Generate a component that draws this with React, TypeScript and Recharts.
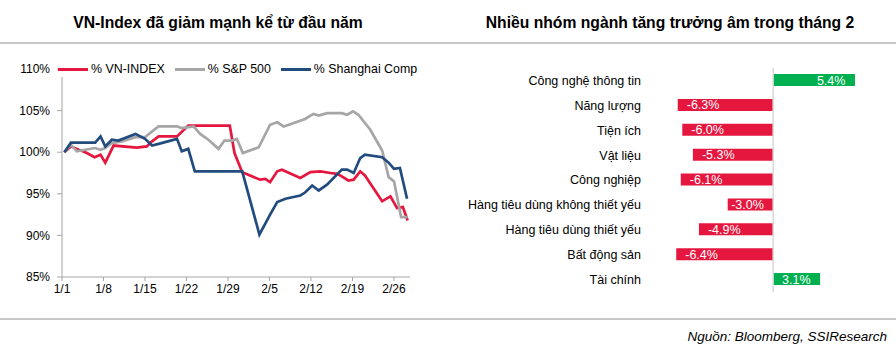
import React from 'react';
import { LineChart, Line, XAxis, YAxis, BarChart, Bar, LabelList, ReferenceLine, Cell } from 'recharts';

const FONT = '"Liberation Sans", Arial, Helvetica, sans-serif';

// ---------- Left chart data ----------
const dateTicks = [0, 7, 14, 21, 28, 35, 42, 49, 56];
const dateLabels = ['1/1', '1/8', '1/15', '1/22', '1/29', '2/5', '2/12', '2/19', '2/26'];
const pctTicks = [85, 90, 95, 100, 105, 110];

const seriesNames = ['% VN-INDEX', '% S&P 500', '% Shanghai Comp'];
const seriesColors = ['#E5173F', '#A6A6A6', '#224B7E'];

// [day since 1/1, % of start]
const vnIndex: [number, number][] = [
  [0.4, 100], [1.5, 100.7], [2.5, 100.4], [4.2, 99.9], [5.5, 99.4], [6.5, 99.7], [7.3, 98.75],
  [8.7, 100.8], [12.6, 100.55], [14.3, 100.7], [15.2, 101.3], [16.3, 101.9], [19.4, 101.9],
  [21.3, 103.2], [28.3, 103.2], [29.1, 99.9], [30.4, 97.6], [33.4, 96.7], [34.3, 96.8],
  [35.1, 96.4], [36.3, 97.7], [37.1, 97.9], [40.2, 96.9], [41.9, 97.6], [43.6, 97.7],
  [45.3, 97.5], [46.4, 97.4], [47.2, 97.1], [48.3, 96.6], [49.2, 96.7], [50.3, 97.7],
  [51.1, 97.2], [54.0, 94.1], [55.4, 94.7], [56.5, 93.3], [57.5, 93.4], [58.3, 91.8],
];
const sp500: [number, number][] = [
  [0.4, 100], [1.5, 100.9], [2.5, 100.1], [3.9, 100.3], [5.6, 100.5], [6.5, 100.3], [7.3, 100.5],
  [8.4, 101.1], [10.1, 101.3], [12.4, 101.8], [14.0, 101.8], [15.2, 102.5], [16.3, 103.1],
  [19.4, 103.1], [20.2, 102.9], [22.2, 103.1], [23.3, 102.2], [24.7, 101.5], [26.4, 100.4],
  [27.4, 101.4], [28.7, 101.4], [29.5, 101.6], [30.5, 99.9], [33.2, 100.6], [35.1, 103.3],
  [36.3, 103.6], [37.4, 103.1], [41.0, 104.0], [42.4, 104.6], [43.3, 104.4], [44.7, 104.7],
  [47.2, 104.7], [48.1, 104.5], [49.1, 104.9], [50.0, 104.5], [52.0, 102.7], [54.0, 100.2],
  [55.1, 97.0], [56.0, 96.5], [57.2, 92.2], [58.3, 92.2],
];
const shanghai: [number, number][] = [
  [0.4, 100], [1.5, 101.15], [5.6, 101.15], [6.5, 101.9], [7.3, 100.7], [8.4, 101.5], [9.5, 101.4],
  [12.4, 102.2], [14.0, 101.6], [15.2, 100.8], [16.3, 101.0], [19.4, 101.6], [20.2, 100.1],
  [21.3, 100.4], [22.4, 97.7], [30.4, 97.7], [33.3, 90.1], [35.1, 92.5], [36.3, 94.0],
  [37.7, 94.4], [40.2, 94.8], [41.0, 95.15], [42.2, 96.0], [43.3, 95.4], [44.7, 96.1],
  [47.2, 97.9], [48.1, 97.9], [49.2, 97.5], [50.3, 99.3], [51.1, 99.7], [54.0, 99.4],
  [55.1, 98.75], [56.0, 98.0], [57.0, 98.1], [58.2, 94.4],
];

// ---------- Right chart data ----------
const sectors = [
  'Công nghệ thông tin', 'Năng lượng', 'Tiện ích', 'Vật liệu', 'Công nghiệp',
  'Hàng tiêu dùng không thiết yếu', 'Hàng tiêu dùng thiết yếu', 'Bất động sản', 'Tài chính',
];
const sectorGrowth = [5.4, -6.3, -6.0, -5.3, -6.1, -3.0, -4.9, -6.4, 3.1];

const toPoints = (arr: [number, number][]) => arr.map(([d, v]) => ({ d, v }));
const lineSeries = [toPoints(vnIndex), toPoints(sp500), toPoints(shanghai)];
const barData = sectors.map((name, i) => ({ name, value: sectorGrowth[i] }));

const BarValueLabel = (props: any) => {
  const { x, y, width, height, value } = props;
  const left = Math.min(x, x + width);
  const w = Math.abs(width);
  const cy = y + height / 2;
  const text = `${Number(value).toFixed(1)}%`;
  if (value < 0) {
    return (
      <text x={left + Math.min(9, w - 42)} y={cy} dy="0.36em" fill="#fff" fontSize={12.5} fontFamily={FONT} textAnchor="start">
        {text}
      </text>
    );
  }
  return (
    <text x={left + w - 9.5} y={cy} dy="0.36em" fill="#fff" fontSize={12.5} fontFamily={FONT} textAnchor="end">
      {text}
    </text>
  );
};

export default function App() {
  const axisColor = '#A6A6A6';
  return (
    <div style={{ position: 'absolute', left: 0, top: 0, width: 896, height: 354, background: '#fff', fontFamily: FONT, overflow: 'hidden' }}>
      <div style={{ position: 'absolute', left: 0, top: 14, width: 436, textAlign: 'center', fontWeight: 'bold', fontSize: 15.7, color: '#000' }}>
        VN-Index đã giảm mạnh kể từ đầu năm
      </div>
      <div style={{ position: 'absolute', left: 450, top: 14, width: 440, textAlign: 'center', fontWeight: 'bold', fontSize: 15.7, color: '#000' }}>
        Nhiều nhóm ngành tăng trưởng âm trong tháng 2
      </div>
      <div style={{ position: 'absolute', left: 0, top: 42, width: 896, height: 1.5, background: '#C8C8C8' }} />

      <div style={{ position: 'absolute', left: 0, top: 0 }}>
        <LineChart width={420} height={300} margin={{ top: 69, right: 10, left: 0, bottom: 0 }}>
          <XAxis
            type="number"
            dataKey="d"
            domain={[0, 58.7]}
            ticks={dateTicks}
            tickFormatter={(v: number) => dateLabels[dateTicks.indexOf(v)]}
            allowDataOverflow
            height={23}
            tickSize={4}
            tickMargin={3}
            stroke={axisColor}
            tick={{ fill: '#000', fontSize: 12, fontFamily: FONT }}
          />
          <YAxis
            type="number"
            domain={[85, 110]}
            ticks={pctTicks}
            tickFormatter={(v: number) => `${v}%`}
            width={62}
            tickSize={5}
            tickMargin={7}
            stroke={axisColor}
            tick={{ fill: '#000', fontSize: 12, fontFamily: FONT }}
          />
          {lineSeries.map((pts, i) => (
            <Line
              key={seriesNames[i]}
              data={pts}
              dataKey="v"
              name={seriesNames[i]}
              stroke={seriesColors[i]}
              strokeWidth={2.7}
              dot={false}
              type="linear"
              isAnimationActive={false}
            />
          ))}
        </LineChart>
      </div>

      <div style={{ position: 'absolute', left: 58, top: 61, display: 'flex', alignItems: 'center', fontSize: 12.4, color: '#000', background: 'transparent' }}>
        {seriesNames.map((n, i) => (
          <div key={n} style={{ display: 'flex', alignItems: 'center', marginRight: 10, background: '#fff' }}>
            <div style={{ width: 30, height: 3, background: seriesColors[i], marginRight: 3 }} />
            <span style={{ lineHeight: '16px' }}>{n}</span>
          </div>
        ))}
      </div>

      <div style={{ position: 'absolute', left: 440, top: 60 }}>
        <BarChart width={434} height={240} data={barData} layout="vertical" margin={{ top: 8, right: 10, left: 0, bottom: 8 }}>
          <XAxis type="number" domain={[-8, 6]} hide />
          <YAxis
            type="category"
            dataKey="name"
            width={212}
            tickLine={false}
            axisLine={false}
            tickSize={0}
            tickMargin={11}
            interval={0}
            tick={{ fill: '#000', fontSize: 12.5, fontFamily: FONT }}
          />
          <ReferenceLine x={0} stroke="#D9D9D9" strokeWidth={1.5} />
          <Bar dataKey="value" barSize={12} isAnimationActive={false}>
            {barData.map((d) => (
              <Cell key={d.name} fill={d.value < 0 ? '#E5173F' : '#00B050'} />
            ))}
            <LabelList dataKey="value" content={BarValueLabel} />
          </Bar>
        </BarChart>
      </div>

      <div style={{ position: 'absolute', left: 0, top: 318, width: 896, height: 1.5, background: '#C8C8C8' }} />
      <div style={{ position: 'absolute', right: 9, top: 329, fontStyle: 'italic', fontSize: 13.5, color: '#000' }}>
        Nguồn: Bloomberg, SSIResearch
      </div>
    </div>
  );
}
